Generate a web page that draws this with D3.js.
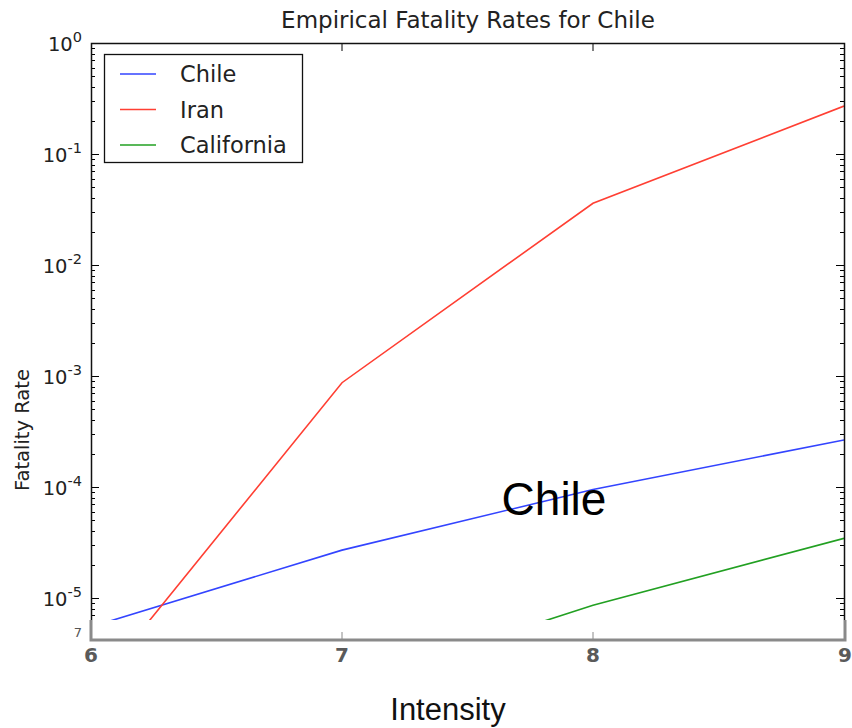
<!DOCTYPE html>
<html>
<head>
<meta charset="utf-8">
<script src="https://cdn.jsdelivr.net/npm/d3@7"></script>
<style>
  body { margin: 0; background: #fff; }
</style>
</head>
<body>
<div id="d3Div"></div>
<script>
var w = 852;
var h = 728;

// data
var intensity = [6, 7, 8, 9];
var chile = [5.5e-6, 2.7e-5, 9.5e-5, 2.65e-4];
var iran = [1.4e-6, 8.7e-4, 0.036, 0.27];
var california = [null, 1.6e-6, 8.6e-6, 3.45e-5];
var seriesNames = ["Chile", "Iran", "California"];
var seriesColors = ["#3344ff", "#ff3f33", "#22a022"];
var yTicks = [1, 1e-1, 1e-2, 1e-3, 1e-4, 1e-5];
var xTicks = [6, 7, 8, 9];

var plotLeft = 91, plotRight = 844, plotTop = 43, cutY = 620;
var dejavu = "'DejaVu Sans', sans-serif";
var arial = "'Liberation Sans', Arial, sans-serif";

var x = d3.scaleLinear().domain([6, 9]).range([plotLeft, plotRight]);
// one decade = 111px; plot is cut off below 620px
var y = d3.scaleLog().domain([1e-6, 1]).range([plotTop + 6 * 111, plotTop]);

var svg = d3.select("#d3Div").append("svg")
  .attr("width", w)
  .attr("height", h)
  .style("font-family", dejavu);

svg.append("defs").append("clipPath").attr("id", "clip")
  .append("rect")
  .attr("x", plotLeft)
  .attr("y", plotTop)
  .attr("width", plotRight - plotLeft)
  .attr("height", cutY - plotTop);

// title
svg.append("text")
  .attr("x", 468)
  .attr("y", 28)
  .attr("text-anchor", "middle")
  .attr("font-size", 23)
  .attr("fill", "#222")
  .text("Empirical Fatality Rates for Chile");

// y label
svg.append("text")
  .attr("transform", "translate(29,430) rotate(-90)")
  .attr("text-anchor", "middle")
  .attr("font-size", 19.5)
  .attr("fill", "#222")
  .text("Fatality Rate");

// minor + major ticks on left and right (inward)
var minor = [];
for (var e = -6; e < 0; e++) {
  for (var m = 2; m <= 9; m++) minor.push(m * Math.pow(10, e));
}
var tickG = svg.append("g").attr("clip-path", "url(#clip)");
[plotLeft, plotRight].forEach(function (sx) {
  var dir = sx === plotLeft ? 1 : -1;
  tickG.selectAll(null)
    .data(minor)
    .enter()
    .append("line")
    .attr("x1", sx)
    .attr("x2", sx + dir * 4)
    .attr("y1", (d) => Math.round(y(d)) + 0.5)
    .attr("y2", (d) => Math.round(y(d)) + 0.5)
    .attr("stroke", "#000")
    .attr("stroke-width", 1);
  tickG.selectAll(null)
    .data(yTicks)
    .enter()
    .append("line")
    .attr("x1", sx)
    .attr("x2", sx + dir * 8)
    .attr("y1", (d) => Math.round(y(d)) + 0.5)
    .attr("y2", (d) => Math.round(y(d)) + 0.5)
    .attr("stroke", "#000")
    .attr("stroke-width", 1);
});
// top ticks
svg.selectAll(null)
  .data(xTicks.slice(1, 3))
  .enter()
  .append("line")
  .attr("x1", (d) => x(d))
  .attr("x2", (d) => x(d))
  .attr("y1", plotTop)
  .attr("y2", plotTop + 8)
  .attr("stroke", "#000");

// y tick labels 10^n
var yLab = svg.selectAll(".ylab")
  .data(yTicks)
  .enter()
  .append("text")
  .attr("class", "ylab")
  .attr("x", 82)
  .attr("y", (d) => y(d) + 8)
  .attr("text-anchor", "end")
  .attr("font-size", 19.5)
  .attr("fill", "#222");
yLab.append("tspan").text("10");
yLab.append("tspan")
  .attr("dy", -9)
  .attr("font-size", 14.5)
  .text((d) => Math.round(Math.log10(d)));

// lines
var line = d3.line()
  .defined((d) => d != null)
  .x((d, i) => x(intensity[i]))
  .y((d) => y(d));

var plotG = svg.append("g").attr("clip-path", "url(#clip)");
[chile, iran, california].forEach(function (s, i) {
  plotG.append("path")
    .datum(s)
    .attr("d", line)
    .attr("fill", "none")
    .attr("stroke", seriesColors[i])
    .attr("stroke-width", 1.6);
});

// spines (bottom cut off)
svg.append("path")
  .attr("d", "M" + (plotLeft + 0.5) + "," + cutY + "V" + (plotTop + 0.5) + "H" + (plotRight + 0.5) + "V" + cutY)
  .attr("fill", "none")
  .attr("stroke", "#111")
  .attr("stroke-width", 1.5);

// legend
var lg = svg.append("g");
lg.append("rect")
  .attr("x", 104.5)
  .attr("y", 54.5)
  .attr("width", 198)
  .attr("height", 108)
  .attr("fill", "#fff")
  .attr("stroke", "#111")
  .attr("stroke-width", 1.3);
seriesNames.forEach(function (name, i) {
  var ly = 74 + i * 35.5;
  lg.append("line")
    .attr("x1", 120)
    .attr("x2", 156)
    .attr("y1", ly)
    .attr("y2", ly)
    .attr("stroke", seriesColors[i])
    .attr("stroke-width", 1.6);
  lg.append("text")
    .attr("x", 180)
    .attr("y", ly + 8)
    .attr("font-size", 22.5)
    .attr("fill", "#222")
    .text(name);
});

// grey x axis drawn over the cut
var gx = svg.append("g");
gx.append("path")
  .attr("d", "M" + plotLeft + "," + cutY + "V640H" + (plotRight + 1) + "V" + cutY)
  .attr("fill", "none")
  .attr("stroke", "#8a8a8a")
  .attr("stroke-width", 3);
gx.selectAll(null)
  .data(xTicks.slice(1, 3))
  .enter()
  .append("line")
  .attr("x1", (d) => x(d))
  .attr("x2", (d) => x(d))
  .attr("y1", 632)
  .attr("y2", 640)
  .attr("stroke", "#8a8a8a")
  .attr("stroke-width", 1);
gx.selectAll(null)
  .data(xTicks)
  .enter()
  .append("text")
  .attr("x", (d) => x(d) + (d === 9 ? 1 : 0))
  .attr("y", 662)
  .attr("text-anchor", "middle")
  .attr("font-size", 20)
  .attr("font-weight", 600)
  .attr("fill", "#5a5a5a")
  .text((d) => d);

svg.append("text")
  .attr("x", 78)
  .attr("y", 637)
  .attr("text-anchor", "middle")
  .attr("font-size", 13)
  .attr("fill", "#555")
  .text("7");

svg.append("text")
  .attr("x", 448)
  .attr("y", 720)
  .attr("text-anchor", "middle")
  .style("font-family", arial)
  .attr("font-size", 31)
  .attr("fill", "#111")
  .text("Intensity");

svg.append("text")
  .attr("x", 554)
  .attr("y", 515)
  .attr("text-anchor", "middle")
  .style("font-family", arial)
  .attr("font-size", 46)
  .attr("fill", "#000")
  .text("Chile");
</script>
</body>
</html>
